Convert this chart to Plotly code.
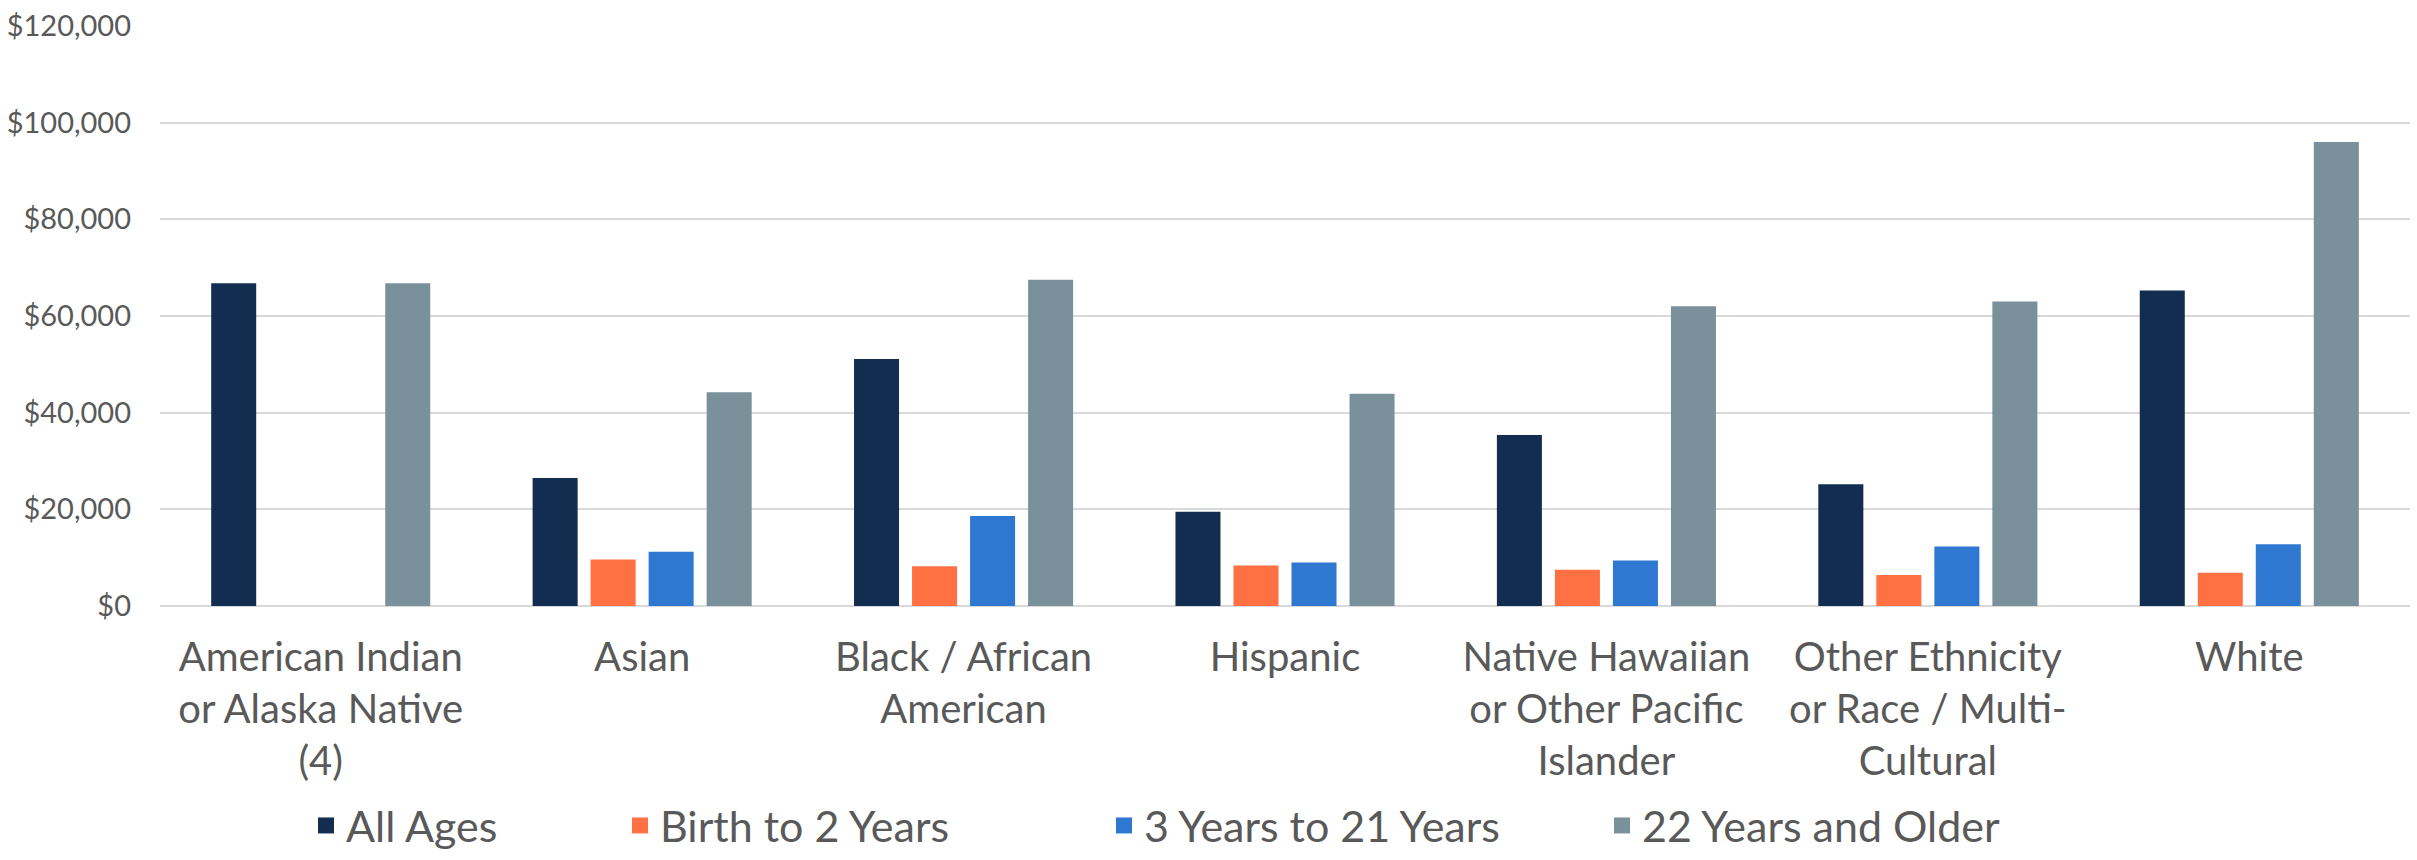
import plotly.graph_objects as go

categories = [
    "American Indian<br>or Alaska Native<br>(4)",
    "Asian",
    "Black / African<br>American",
    "Hispanic",
    "Native Hawaiian<br>or Other Pacific<br>Islander",
    "Other Ethnicity<br>or Race / Multi-<br>Cultural",
    "White",
]
series_names = ["All Ages", "Birth to 2 Years", "3 Years to 21 Years", "22 Years and Older"]
all_ages = [66800, 26500, 51100, 19500, 35400, 25200, 65300]
birth_to_2 = [None, 9600, 8200, 8400, 7500, 6400, 6900]
years_3_to_21 = [None, 11200, 18600, 9000, 9400, 12300, 12800]
years_22_older = [66800, 44200, 67500, 43900, 62000, 63000, 96000]
colors = ["#132D51", "#FF7043", "#2E78D2", "#7A909B"]
y_ticks = [0, 20000, 40000, 60000, 80000, 100000, 120000]
y_tick_labels = ["$0", "$20,000", "$40,000", "$60,000", "$80,000", "$100,000", "$120,000"]

values = [all_ages, birth_to_2, years_3_to_21, years_22_older]

W, H = 2417, 860
text_color = "#595959"
# left edge (px) of each legend entry, as in the reference layout
legend_left_px = [306, 620, 1104, 1602]
legend_ids = ["legend", "legend2", "legend3", "legend4"]

fig = go.Figure()
for name, vals, col in zip(series_names, values, colors):
    fig.add_trace(go.Bar(x=categories, y=vals, name=name, marker_color=col,
                         marker_line_width=0, showlegend=False))
# legend proxies with larger square symbols, one legend per entry
for name, col, lid in zip(series_names, colors, legend_ids):
    fig.add_trace(go.Scatter(x=[None], y=[None], mode="markers", name=name,
                             legend=lid,
                             marker=dict(symbol="square", size=26, color=col)))

legend_layouts = {}
for lid, px in zip(legend_ids, legend_left_px):
    legend_layouts[lid] = dict(
        orientation="h", xref="container", yref="container",
        x=px / W, xanchor="left", y=0, yanchor="bottom",
        font=dict(size=43, color=text_color, family="Lato"),
        itemsizing="trace", itemwidth=30, bgcolor="rgba(0,0,0,0)",
    )

fig.update_layout(
    width=W, height=H,
    margin=dict(l=160, r=7, t=22, b=253),
    paper_bgcolor="white", plot_bgcolor="white",
    barmode="group", bargap=0.278, bargroupgap=0.224,
    font=dict(family="Lato", color=text_color),
    showlegend=True,
    **legend_layouts,
)
fig.update_xaxes(tickfont=dict(size=40, color=text_color), showgrid=False,
                 showline=False, ticks="", ticklabelstandoff=24)
fig.update_yaxes(range=[0, 120000], tickvals=y_ticks, ticktext=y_tick_labels,
                 tickfont=dict(size=29, color=text_color), showgrid=True,
                 gridcolor="#D9D9D9", gridwidth=2, zeroline=True,
                 zerolinecolor="#D9D9D9", zerolinewidth=2, showline=False,
                 ticks="", ticklabelstandoff=28)

fig.write_html("out.html")
